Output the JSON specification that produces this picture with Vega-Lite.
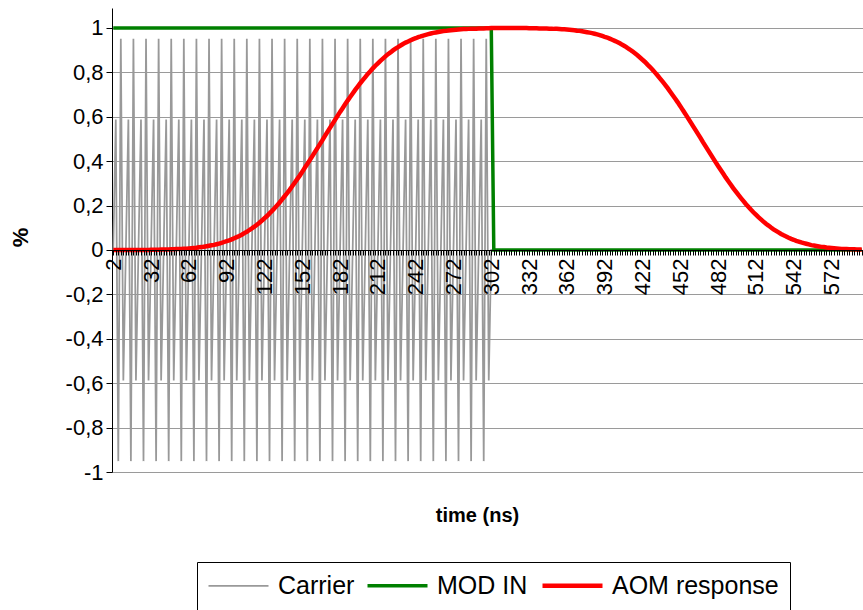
{
"$schema":"https://vega.github.io/schema/vega-lite/v6.json",
"width":751,"height":464,
"autosize":{"type":"none"},
"padding":{"left":112,"top":8,"right":0,"bottom":138},
"background":"white",
"config":{"view":{"stroke":null},"font":"Liberation Sans"},
"data":{"values":[
{"t":2,"c":0,"m":1,"a":0},{"t":4,"c":0.588,"m":1,"a":0},{"t":6,"c":-0.951,"m":1,"a":0},{"t":8,"c":0.951,"m":1,"a":0},{"t":10,"c":-0.588,"m":1,"a":0},
{"t":12,"c":0,"m":1,"a":0},{"t":14,"c":0.588,"m":1,"a":0},{"t":16,"c":-0.951,"m":1,"a":0},{"t":18,"c":0.951,"m":1,"a":0},{"t":20,"c":-0.588,"m":1,"a":0},
{"t":22,"c":0,"m":1,"a":0},{"t":24,"c":0.588,"m":1,"a":0},{"t":26,"c":-0.951,"m":1,"a":0},{"t":28,"c":0.951,"m":1,"a":0},{"t":30,"c":-0.588,"m":1,"a":0},
{"t":32,"c":0,"m":1,"a":0.001},{"t":34,"c":0.588,"m":1,"a":0.001},{"t":36,"c":-0.951,"m":1,"a":0.001},{"t":38,"c":0.951,"m":1,"a":0.001},{"t":40,"c":-0.588,"m":1,"a":0.002},
{"t":42,"c":0,"m":1,"a":0.002},{"t":44,"c":0.588,"m":1,"a":0.002},{"t":46,"c":-0.951,"m":1,"a":0.002},{"t":48,"c":0.951,"m":1,"a":0.003},{"t":50,"c":-0.588,"m":1,"a":0.003},
{"t":52,"c":0,"m":1,"a":0.004},{"t":54,"c":0.588,"m":1,"a":0.004},{"t":56,"c":-0.951,"m":1,"a":0.005},{"t":58,"c":0.951,"m":1,"a":0.006},{"t":60,"c":-0.588,"m":1,"a":0.006},
{"t":62,"c":0,"m":1,"a":0.007},{"t":64,"c":0.588,"m":1,"a":0.008},{"t":66,"c":-0.951,"m":1,"a":0.009},{"t":68,"c":0.951,"m":1,"a":0.010},{"t":70,"c":-0.588,"m":1,"a":0.012},
{"t":72,"c":0,"m":1,"a":0.013},{"t":74,"c":0.588,"m":1,"a":0.015},{"t":76,"c":-0.951,"m":1,"a":0.017},{"t":78,"c":0.951,"m":1,"a":0.019},{"t":80,"c":-0.588,"m":1,"a":0.021},
{"t":82,"c":0,"m":1,"a":0.023},{"t":84,"c":0.588,"m":1,"a":0.026},{"t":86,"c":-0.951,"m":1,"a":0.029},{"t":88,"c":0.951,"m":1,"a":0.032},{"t":90,"c":-0.588,"m":1,"a":0.036},
{"t":92,"c":0,"m":1,"a":0.040},{"t":94,"c":0.588,"m":1,"a":0.043},{"t":96,"c":-0.951,"m":1,"a":0.048},{"t":98,"c":0.951,"m":1,"a":0.053},{"t":100,"c":-0.588,"m":1,"a":0.058},
{"t":102,"c":0,"m":1,"a":0.063},{"t":104,"c":0.588,"m":1,"a":0.069},{"t":106,"c":-0.951,"m":1,"a":0.076},{"t":108,"c":0.951,"m":1,"a":0.082},{"t":110,"c":-0.588,"m":1,"a":0.090},
{"t":112,"c":0,"m":1,"a":0.097},{"t":114,"c":0.588,"m":1,"a":0.105},{"t":116,"c":-0.951,"m":1,"a":0.114},{"t":118,"c":0.951,"m":1,"a":0.123},{"t":120,"c":-0.588,"m":1,"a":0.133},
{"t":122,"c":0,"m":1,"a":0.143},{"t":124,"c":0.588,"m":1,"a":0.153},{"t":126,"c":-0.951,"m":1,"a":0.165},{"t":128,"c":0.951,"m":1,"a":0.176},{"t":130,"c":-0.588,"m":1,"a":0.188},
{"t":132,"c":0,"m":1,"a":0.201},{"t":134,"c":0.588,"m":1,"a":0.214},{"t":136,"c":-0.951,"m":1,"a":0.228},{"t":138,"c":0.951,"m":1,"a":0.242},{"t":140,"c":-0.588,"m":1,"a":0.256},
{"t":142,"c":0,"m":1,"a":0.271},{"t":144,"c":0.588,"m":1,"a":0.287},{"t":146,"c":-0.951,"m":1,"a":0.303},{"t":148,"c":0.951,"m":1,"a":0.319},{"t":150,"c":-0.588,"m":1,"a":0.335},
{"t":152,"c":0,"m":1,"a":0.352},{"t":154,"c":0.588,"m":1,"a":0.370},{"t":156,"c":-0.951,"m":1,"a":0.387},{"t":158,"c":0.951,"m":1,"a":0.405},{"t":160,"c":-0.588,"m":1,"a":0.423},
{"t":162,"c":0,"m":1,"a":0.441},{"t":164,"c":0.588,"m":1,"a":0.459},{"t":166,"c":-0.951,"m":1,"a":0.477},{"t":168,"c":0.951,"m":1,"a":0.495},{"t":170,"c":-0.588,"m":1,"a":0.514},
{"t":172,"c":0,"m":1,"a":0.532},{"t":174,"c":0.588,"m":1,"a":0.550},{"t":176,"c":-0.951,"m":1,"a":0.568},{"t":178,"c":0.951,"m":1,"a":0.586},{"t":180,"c":-0.588,"m":1,"a":0.604},
{"t":182,"c":0,"m":1,"a":0.622},{"t":184,"c":0.588,"m":1,"a":0.639},{"t":186,"c":-0.951,"m":1,"a":0.656},{"t":188,"c":0.951,"m":1,"a":0.673},{"t":190,"c":-0.588,"m":1,"a":0.689},
{"t":192,"c":0,"m":1,"a":0.705},{"t":194,"c":0.588,"m":1,"a":0.721},{"t":196,"c":-0.951,"m":1,"a":0.736},{"t":198,"c":0.951,"m":1,"a":0.751},{"t":200,"c":-0.588,"m":1,"a":0.765},
{"t":202,"c":0,"m":1,"a":0.779},{"t":204,"c":0.588,"m":1,"a":0.793},{"t":206,"c":-0.951,"m":1,"a":0.805},{"t":208,"c":0.951,"m":1,"a":0.818},{"t":210,"c":-0.588,"m":1,"a":0.830},
{"t":212,"c":0,"m":1,"a":0.841},{"t":214,"c":0.588,"m":1,"a":0.852},{"t":216,"c":-0.951,"m":1,"a":0.862},{"t":218,"c":0.951,"m":1,"a":0.872},{"t":220,"c":-0.588,"m":1,"a":0.882},
{"t":222,"c":0,"m":1,"a":0.890},{"t":224,"c":0.588,"m":1,"a":0.899},{"t":226,"c":-0.951,"m":1,"a":0.907},{"t":228,"c":0.951,"m":1,"a":0.914},{"t":230,"c":-0.588,"m":1,"a":0.921},
{"t":232,"c":0,"m":1,"a":0.928},{"t":234,"c":0.588,"m":1,"a":0.934},{"t":236,"c":-0.951,"m":1,"a":0.939},{"t":238,"c":0.951,"m":1,"a":0.945},{"t":240,"c":-0.588,"m":1,"a":0.950},
{"t":242,"c":0,"m":1,"a":0.954},{"t":244,"c":0.588,"m":1,"a":0.959},{"t":246,"c":-0.951,"m":1,"a":0.962},{"t":248,"c":0.951,"m":1,"a":0.966},{"t":250,"c":-0.588,"m":1,"a":0.969},
{"t":252,"c":0,"m":1,"a":0.972},{"t":254,"c":0.588,"m":1,"a":0.975},{"t":256,"c":-0.951,"m":1,"a":0.978},{"t":258,"c":0.951,"m":1,"a":0.980},{"t":260,"c":-0.588,"m":1,"a":0.982},
{"t":262,"c":0,"m":1,"a":0.984},{"t":264,"c":0.588,"m":1,"a":0.986},{"t":266,"c":-0.951,"m":1,"a":0.987},{"t":268,"c":0.951,"m":1,"a":0.989},{"t":270,"c":-0.588,"m":1,"a":0.990},
{"t":272,"c":0,"m":1,"a":0.991},{"t":274,"c":0.588,"m":1,"a":0.992},{"t":276,"c":-0.951,"m":1,"a":0.993},{"t":278,"c":0.951,"m":1,"a":0.994},{"t":280,"c":-0.588,"m":1,"a":0.995},
{"t":282,"c":0,"m":1,"a":0.995},{"t":284,"c":0.588,"m":1,"a":0.996},{"t":286,"c":-0.951,"m":1,"a":0.997},{"t":288,"c":0.951,"m":1,"a":0.997},{"t":290,"c":-0.588,"m":1,"a":0.997},
{"t":292,"c":0,"m":1,"a":0.998},{"t":294,"c":0.588,"m":1,"a":0.998},{"t":296,"c":-0.951,"m":1,"a":0.998},{"t":298,"c":0.951,"m":1,"a":0.999},{"t":300,"c":-0.588,"m":1,"a":0.999},
{"t":302,"c":0,"m":1,"a":1},{"t":304,"c":0,"m":0,"a":1},{"t":306,"c":0,"m":0,"a":1},{"t":308,"c":0,"m":0,"a":1},{"t":310,"c":0,"m":0,"a":1},
{"t":312,"c":0,"m":0,"a":1},{"t":314,"c":0,"m":0,"a":1},{"t":316,"c":0,"m":0,"a":1},{"t":318,"c":0,"m":0,"a":1},{"t":320,"c":0,"m":0,"a":1},
{"t":322,"c":0,"m":0,"a":1},{"t":324,"c":0,"m":0,"a":1},{"t":326,"c":0,"m":0,"a":1},{"t":328,"c":0,"m":0,"a":1},{"t":330,"c":0,"m":0,"a":1},
{"t":332,"c":0,"m":0,"a":0.999},{"t":334,"c":0,"m":0,"a":0.999},{"t":336,"c":0,"m":0,"a":0.999},{"t":338,"c":0,"m":0,"a":0.999},{"t":340,"c":0,"m":0,"a":0.998},
{"t":342,"c":0,"m":0,"a":0.998},{"t":344,"c":0,"m":0,"a":0.998},{"t":346,"c":0,"m":0,"a":0.998},{"t":348,"c":0,"m":0,"a":0.997},{"t":350,"c":0,"m":0,"a":0.997},
{"t":352,"c":0,"m":0,"a":0.996},{"t":354,"c":0,"m":0,"a":0.996},{"t":356,"c":0,"m":0,"a":0.995},{"t":358,"c":0,"m":0,"a":0.994},{"t":360,"c":0,"m":0,"a":0.994},
{"t":362,"c":0,"m":0,"a":0.993},{"t":364,"c":0,"m":0,"a":0.992},{"t":366,"c":0,"m":0,"a":0.991},{"t":368,"c":0,"m":0,"a":0.990},{"t":370,"c":0,"m":0,"a":0.988},
{"t":372,"c":0,"m":0,"a":0.987},{"t":374,"c":0,"m":0,"a":0.985},{"t":376,"c":0,"m":0,"a":0.983},{"t":378,"c":0,"m":0,"a":0.981},{"t":380,"c":0,"m":0,"a":0.979},
{"t":382,"c":0,"m":0,"a":0.977},{"t":384,"c":0,"m":0,"a":0.974},{"t":386,"c":0,"m":0,"a":0.971},{"t":388,"c":0,"m":0,"a":0.968},{"t":390,"c":0,"m":0,"a":0.964},
{"t":392,"c":0,"m":0,"a":0.960},{"t":394,"c":0,"m":0,"a":0.957},{"t":396,"c":0,"m":0,"a":0.952},{"t":398,"c":0,"m":0,"a":0.947},{"t":400,"c":0,"m":0,"a":0.942},
{"t":402,"c":0,"m":0,"a":0.937},{"t":404,"c":0,"m":0,"a":0.931},{"t":406,"c":0,"m":0,"a":0.924},{"t":408,"c":0,"m":0,"a":0.918},{"t":410,"c":0,"m":0,"a":0.910},
{"t":412,"c":0,"m":0,"a":0.903},{"t":414,"c":0,"m":0,"a":0.895},{"t":416,"c":0,"m":0,"a":0.886},{"t":418,"c":0,"m":0,"a":0.877},{"t":420,"c":0,"m":0,"a":0.867},
{"t":422,"c":0,"m":0,"a":0.857},{"t":424,"c":0,"m":0,"a":0.847},{"t":426,"c":0,"m":0,"a":0.835},{"t":428,"c":0,"m":0,"a":0.824},{"t":430,"c":0,"m":0,"a":0.812},
{"t":432,"c":0,"m":0,"a":0.799},{"t":434,"c":0,"m":0,"a":0.786},{"t":436,"c":0,"m":0,"a":0.772},{"t":438,"c":0,"m":0,"a":0.758},{"t":440,"c":0,"m":0,"a":0.744},
{"t":442,"c":0,"m":0,"a":0.729},{"t":444,"c":0,"m":0,"a":0.713},{"t":446,"c":0,"m":0,"a":0.697},{"t":448,"c":0,"m":0,"a":0.681},{"t":450,"c":0,"m":0,"a":0.665},
{"t":452,"c":0,"m":0,"a":0.648},{"t":454,"c":0,"m":0,"a":0.630},{"t":456,"c":0,"m":0,"a":0.613},{"t":458,"c":0,"m":0,"a":0.595},{"t":460,"c":0,"m":0,"a":0.577},
{"t":462,"c":0,"m":0,"a":0.559},{"t":464,"c":0,"m":0,"a":0.541},{"t":466,"c":0,"m":0,"a":0.523},{"t":468,"c":0,"m":0,"a":0.505},{"t":470,"c":0,"m":0,"a":0.486},
{"t":472,"c":0,"m":0,"a":0.468},{"t":474,"c":0,"m":0,"a":0.450},{"t":476,"c":0,"m":0,"a":0.432},{"t":478,"c":0,"m":0,"a":0.414},{"t":480,"c":0,"m":0,"a":0.396},
{"t":482,"c":0,"m":0,"a":0.378},{"t":484,"c":0,"m":0,"a":0.361},{"t":486,"c":0,"m":0,"a":0.344},{"t":488,"c":0,"m":0,"a":0.327},{"t":490,"c":0,"m":0,"a":0.311},
{"t":492,"c":0,"m":0,"a":0.295},{"t":494,"c":0,"m":0,"a":0.279},{"t":496,"c":0,"m":0,"a":0.264},{"t":498,"c":0,"m":0,"a":0.249},{"t":500,"c":0,"m":0,"a":0.235},
{"t":502,"c":0,"m":0,"a":0.221},{"t":504,"c":0,"m":0,"a":0.207},{"t":506,"c":0,"m":0,"a":0.195},{"t":508,"c":0,"m":0,"a":0.182},{"t":510,"c":0,"m":0,"a":0.170},
{"t":512,"c":0,"m":0,"a":0.159},{"t":514,"c":0,"m":0,"a":0.148},{"t":516,"c":0,"m":0,"a":0.138},{"t":518,"c":0,"m":0,"a":0.128},{"t":520,"c":0,"m":0,"a":0.118},
{"t":522,"c":0,"m":0,"a":0.110},{"t":524,"c":0,"m":0,"a":0.101},{"t":526,"c":0,"m":0,"a":0.093},{"t":528,"c":0,"m":0,"a":0.086},{"t":530,"c":0,"m":0,"a":0.079},
{"t":532,"c":0,"m":0,"a":0.072},{"t":534,"c":0,"m":0,"a":0.066},{"t":536,"c":0,"m":0,"a":0.061},{"t":538,"c":0,"m":0,"a":0.055},{"t":540,"c":0,"m":0,"a":0.050},
{"t":542,"c":0,"m":0,"a":0.046},{"t":544,"c":0,"m":0,"a":0.041},{"t":546,"c":0,"m":0,"a":0.038},{"t":548,"c":0,"m":0,"a":0.034},{"t":550,"c":0,"m":0,"a":0.031},
{"t":552,"c":0,"m":0,"a":0.028},{"t":554,"c":0,"m":0,"a":0.025},{"t":556,"c":0,"m":0,"a":0.022},{"t":558,"c":0,"m":0,"a":0.020},{"t":560,"c":0,"m":0,"a":0.018},
{"t":562,"c":0,"m":0,"a":0.016},{"t":564,"c":0,"m":0,"a":0.014},{"t":566,"c":0,"m":0,"a":0.013},{"t":568,"c":0,"m":0,"a":0.011},{"t":570,"c":0,"m":0,"a":0.010},
{"t":572,"c":0,"m":0,"a":0.009},{"t":574,"c":0,"m":0,"a":0.008},{"t":576,"c":0,"m":0,"a":0.007},{"t":578,"c":0,"m":0,"a":0.006},{"t":580,"c":0,"m":0,"a":0.005},
{"t":582,"c":0,"m":0,"a":0.005},{"t":584,"c":0,"m":0,"a":0.004},{"t":586,"c":0,"m":0,"a":0.003},{"t":588,"c":0,"m":0,"a":0.003},{"t":590,"c":0,"m":0,"a":0.003},
{"t":592,"c":0,"m":0,"a":0.002},{"t":594,"c":0,"m":0,"a":0.002},{"t":596,"c":0,"m":0,"a":0.002}
]},
"encoding":{
"x":{"field":"t","type":"ordinal","sort":"ascending","scale":{"type":"point","padding":0.5},
"axis":{"zindex":1,"title":"time (ns)","titleFontSize":20,"titleFontWeight":"bold","titleColor":"black","titleX":365,"titleY":265,"titleAlign":"center","titleBaseline":"middle","titleAngle":0,
"offset":-222,"labelAngle":-90,"labelFontSize":22,"labelColor":"black","labelExpr":"(datum.value - 2) % 30 == 0 ? datum.value : ''","labelOverlap":false,"labelBound":false,"labelPadding":3,"tickSize":5,"tickColor":"black","domainColor":"black","domainWidth":1,"grid":false}}
},
"layer":[
{"mark":{"type":"line","strokeWidth":1.75,"clip":false},
"encoding":{
"y":{"field":"c","type":"quantitative","title":"%","scale":{"domain":[-1,1.09],"nice":false,"zero":false},
"axis":{"values":[-1,-0.8,-0.6,-0.4,-0.2,0,0.2,0.4,0.6,0.8,1],"labelExpr":"replace('' + datum.value, '.', ',')","grid":true,"gridColor":"#9a9a9a","gridWidth":1,"tickSize":6,"tickColor":"black","domainColor":"black","labelFontSize":22,"labelColor":"black","labelPadding":3,
"titleFontSize":22,"titleFontWeight":"bold","titleColor":"black","titleX":-92,"titleY":229,"titleAngle":-90,"titleAlign":"center","titleBaseline":"middle"}},
"color":{"datum":"Carrier","type":"nominal","scale":{"domain":["Carrier","MOD IN","AOM response"],"range":["#999999","#008000","#FF0000"]},
"legend":{"orient":"none","legendX":85,"legendY":554,"direction":"horizontal","title":null,"symbolType":"stroke","symbolSize":3600,"symbolStrokeWidth":3,"symbolOffset":18,"labelFontSize":25,"labelColor":"black","labelOffset":27,"labelLimit":0,"columnPadding":5,"padding":11,"strokeColor":"black","fillColor":"white",
"encode":{"symbols":{"update":{"strokeWidth":{"signal":"datum.value === 'Carrier' ? 1.75 : (datum.value === 'MOD IN' ? 3.5 : 4.5)"}}}}}}
}},
{"mark":{"type":"line","strokeWidth":3.5},
"encoding":{"y":{"field":"m","type":"quantitative","title":"%"},"color":{"datum":"MOD IN","type":"nominal"}}},
{"mark":{"type":"line","strokeWidth":4.5},
"encoding":{"y":{"field":"a","type":"quantitative","title":"%"},"color":{"datum":"AOM response","type":"nominal"}}}
]
}
